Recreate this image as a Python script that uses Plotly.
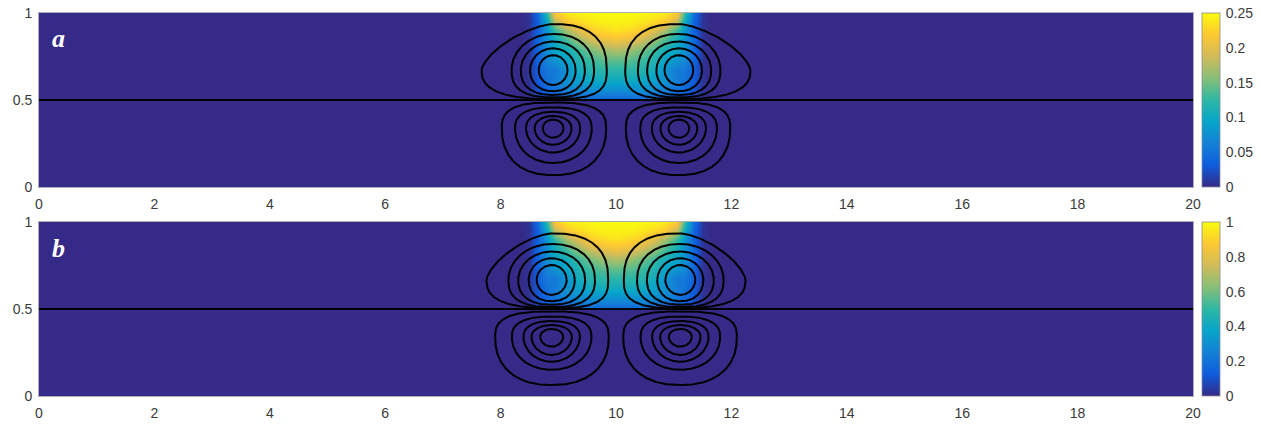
import numpy as np
import plotly.graph_objects as go

# ------------------------------------------------------------------
# Values
# ------------------------------------------------------------------
x_ticks = [0, 2, 4, 6, 8, 10, 12, 14, 16, 18, 20]
y_ticks = [0, 0.5, 1]
y_tick_text = ["0", "0.5", "1"]
cbar_ticks_a = [0, 0.05, 0.1, 0.15, 0.2, 0.25]
cbar_text_a = ["0", "0.05", "0.1", "0.15", "0.2", "0.25"]
cbar_ticks_b = [0, 0.2, 0.4, 0.6, 0.8, 1]
cbar_text_b = ["0", "0.2", "0.4", "0.6", "0.8", "1"]
cmax_a = 0.25
cmax_b = 1.0
x_range = [0, 20]
y_range = [0, 1]
mirror_x = 10.0          # the pattern is mirror-symmetric about x = 10
interface_y = 0.5
panel_labels = ["a", "b"]

# concentration (fraction of colour-bar maximum), left half of the plume
conc_x_left = [0, 8.35, 8.5, 8.65, 8.8, 8.95, 9.15, 9.35, 9.55, 9.75, 10.0]
conc_y = [0, 0.495, 0.505, 0.52, 0.56, 0.61, 0.67, 0.73, 0.79, 0.85, 0.90, 0.95, 1.0]
conc_rows = [
    [0, 0, 0.00, 0.00, 0.00, 0.00, 0.00, 0.00, 0.00, 0.00, 0.00],   # y = 0
    [0, 0, 0.00, 0.00, 0.00, 0.00, 0.00, 0.00, 0.00, 0.00, 0.00],   # y = 0.495
    [0, 0, 0.01, 0.05, 0.08, 0.10, 0.12, 0.14, 0.15, 0.15, 0.14],   # y = 0.505
    [0, 0, 0.01, 0.07, 0.11, 0.13, 0.16, 0.19, 0.20, 0.20, 0.19],   # y = 0.52
    [0, 0, 0.02, 0.10, 0.16, 0.20, 0.25, 0.28, 0.30, 0.30, 0.29],   # y = 0.56
    [0, 0, 0.02, 0.12, 0.20, 0.24, 0.31, 0.36, 0.39, 0.40, 0.39],   # y = 0.61
    [0, 0, 0.02, 0.14, 0.22, 0.22, 0.32, 0.42, 0.47, 0.49, 0.48],   # y = 0.67
    [0, 0, 0.02, 0.15, 0.27, 0.32, 0.38, 0.46, 0.52, 0.56, 0.57],   # y = 0.73
    [0, 0, 0.02, 0.16, 0.30, 0.38, 0.43, 0.52, 0.60, 0.66, 0.69],   # y = 0.79
    [0, 0, 0.02, 0.16, 0.31, 0.43, 0.55, 0.67, 0.76, 0.82, 0.85],   # y = 0.85
    [0, 0, 0.02, 0.15, 0.33, 0.52, 0.69, 0.80, 0.88, 0.92, 0.94],   # y = 0.90
    [0, 0, 0.02, 0.15, 0.40, 0.72, 0.87, 0.92, 0.95, 0.97, 0.98],   # y = 0.95
    [0, 0, 0.02, 0.18, 0.50, 0.88, 0.96, 0.98, 0.99, 1.00, 1.00],   # y = 1.0
]

# streamline loops of the left vortices (right ones are mirror images)
# extents measured from the vortex centre, outermost loop first
top_center_a = (8.91, 0.672)
top_left_a = [1.24, 0.72, 0.56, 0.40, 0.25]
top_right_a = [0.93, 0.71, 0.55, 0.39, 0.25]
top_up_a = [0.265, 0.208, 0.164, 0.125, 0.086]
top_down_a = [0.166, 0.157, 0.143, 0.122, 0.086]

bot_center_a = (8.91, 0.338)
bot_left_a = [0.89, 0.66, 0.47, 0.32, 0.18]
bot_right_a = [0.92, 0.67, 0.47, 0.32, 0.18]
bot_up_a = [0.148, 0.120, 0.094, 0.070, 0.050]
bot_down_a = [0.270, 0.200, 0.140, 0.095, 0.055]

top_center_b = (8.885, 0.667)
top_left_b = [1.13, 0.75, 0.58, 0.40, 0.26]
top_right_b = [0.98, 0.75, 0.58, 0.40, 0.26]
top_up_b = [0.268, 0.207, 0.163, 0.125, 0.086]
top_down_b = [0.162, 0.155, 0.142, 0.123, 0.086]

bot_center_b = (8.885, 0.341)
bot_left_b = [0.98, 0.69, 0.49, 0.35, 0.20]
bot_right_b = [0.99, 0.69, 0.49, 0.35, 0.20]
bot_up_b = [0.145, 0.116, 0.090, 0.067, 0.045]
bot_down_b = [0.278, 0.190, 0.144, 0.105, 0.057]

# ------------------------------------------------------------------
# Styles (loop shape exponents per quadrant, colours, geometry)
# ------------------------------------------------------------------
top_p_uo = [1.5, 2.0, 2.0, 2.0, 2.0]
top_p_ui = [2.5, 2.2, 2.1, 2.0, 2.0]
top_p_lo = [2.6, 2.6, 2.4, 2.2, 2.0]
top_p_li = [3.0, 2.6, 2.4, 2.2, 2.0]
bot_p_u = [2.8, 2.5, 2.3, 2.1, 2.0]
bot_p_l = [2.3, 2.1, 2.0, 2.0, 2.0]

parula = [
    [0.0, "#352a87"], [0.125, "#0f5cdd"], [0.25, "#1481d6"],
    [0.375, "#06a4ca"], [0.5, "#2eb7a4"], [0.625, "#87bf77"],
    [0.75, "#d1bb59"], [0.875, "#fec832"], [1.0, "#f9fb0e"],
]
W, H = 1261, 425
plot_left, plot_right = 39, 1193
panel_px = [(13, 187), (222, 396)]
cbar_left, cbar_w = 1202, 18
font_color = "#3a3a3a"
font_family = "Liberation Sans, Arial, sans-serif"


def loop(cx, cy, al, ar, bu, bd, p_ul, p_ur, p_ll, p_lr, n=160):
    t = np.linspace(0, 2 * np.pi, 4 * n + 1)
    c, s = np.cos(t), np.sin(t)
    right = c >= 0
    up = s >= 0
    a = np.where(right, ar, al)
    b = np.where(up, bu, bd)
    p = np.where(up, np.where(right, p_ur, p_ul), np.where(right, p_lr, p_ll))
    x = cx + a * np.sign(c) * np.abs(c) ** (2.0 / p)
    y = cy + b * np.sign(s) * np.abs(s) ** (2.0 / p)
    return x, y


def panel_loops(tc, tl, tr, tu, td, bc, bl, br, bu, bd):
    xs, ys = [], []
    for k in range(len(tl)):
        x, y = loop(tc[0], tc[1], tl[k], tr[k], tu[k], td[k],
                    top_p_uo[k], top_p_ui[k], top_p_lo[k], top_p_li[k])
        for xx in (x, 2 * mirror_x - x):
            xs += list(xx) + [None]
            ys += list(y) + [None]
    for k in range(len(bl)):
        x, y = loop(bc[0], bc[1], bl[k], br[k], bu[k], bd[k],
                    bot_p_u[k], bot_p_u[k], bot_p_l[k], bot_p_l[k])
        for xx in (x, 2 * mirror_x - x):
            xs += list(xx) + [None]
            ys += list(y) + [None]
    return xs, ys


# full concentration grid (mirror about x = 10)
conc_x = conc_x_left + [2 * mirror_x - v for v in reversed(conc_x_left[:-1])]
conc_full = np.array([row + row[-2::-1] for row in conc_rows], dtype=float)

fig = go.Figure()

panels = [
    dict(xa="x", ya="y", cax="coloraxis", cmax=cmax_a,
         loops=panel_loops(top_center_a, top_left_a, top_right_a, top_up_a, top_down_a,
                           bot_center_a, bot_left_a, bot_right_a, bot_up_a, bot_down_a)),
    dict(xa="x2", ya="y2", cax="coloraxis2", cmax=cmax_b,
         loops=panel_loops(top_center_b, top_left_b, top_right_b, top_up_b, top_down_b,
                           bot_center_b, bot_left_b, bot_right_b, bot_up_b, bot_down_b)),
]

for pnl in panels:
    fig.add_trace(go.Heatmap(
        x=conc_x, y=conc_y, z=conc_full * pnl["cmax"],
        zsmooth="best", coloraxis=pnl["cax"],
        xaxis=pnl["xa"], yaxis=pnl["ya"], hoverinfo="skip",
    ))
    lx, ly = pnl["loops"]
    fig.add_trace(go.Scatter(
        x=lx, y=ly, mode="lines", line=dict(color="black", width=2),
        xaxis=pnl["xa"], yaxis=pnl["ya"], hoverinfo="skip", showlegend=False,
    ))

xdom = [plot_left / W, plot_right / W]


def ydom(top, bottom):
    return [1 - bottom / H, 1 - top / H]


axis_common = dict(showgrid=False, zeroline=False, showline=True, mirror=True,
                   automargin=False,
                   linecolor="rgba(140,140,150,0.7)", linewidth=1,
                   tickfont=dict(family=font_family, size=14, color=font_color))

xa_common = dict(axis_common, range=x_range, tickvals=x_ticks,
                 ticktext=[str(v) for v in x_ticks],
                 ticks="outside", ticklen=4, tickcolor="rgba(0,0,0,0)", domain=xdom)
ya_common = dict(axis_common, range=y_range, tickvals=y_ticks, ticktext=y_tick_text,
                 ticks="outside", ticklen=3, tickcolor="rgba(0,0,0,0)")


def cbar(top, bottom, vals, text):
    return dict(
        x=cbar_left / W, xanchor="left", xpad=0, ypad=0,
        y=1 - (top + bottom) / 2 / H, yanchor="middle",
        lenmode="fraction", len=(bottom - top) / H,
        thickness=cbar_w, thicknessmode="pixels",
        outlinecolor="rgba(140,140,150,0.8)", outlinewidth=1,
        tickvals=vals, ticktext=text, ticks="outside", ticklen=3,
        tickcolor="rgba(0,0,0,0)",
        tickfont=dict(family=font_family, size=14, color=font_color),
    )


fig.update_layout(
    template="none",
    width=W, height=H,
    margin=dict(l=0, r=0, t=0, b=0, autoexpand=False),
    paper_bgcolor="white", plot_bgcolor="#352a87",
    showlegend=False,
    xaxis=dict(xa_common, anchor="y"),
    yaxis=dict(ya_common, anchor="x", domain=ydom(*panel_px[0])),
    xaxis2=dict(xa_common, anchor="y2"),
    yaxis2=dict(ya_common, anchor="x2", domain=ydom(*panel_px[1])),
    coloraxis=dict(cmin=0, cmax=cmax_a, colorscale=parula,
                   colorbar=cbar(panel_px[0][0], panel_px[0][1], cbar_ticks_a, cbar_text_a)),
    coloraxis2=dict(cmin=0, cmax=cmax_b, colorscale=parula,
                    colorbar=cbar(panel_px[1][0], panel_px[1][1], cbar_ticks_b, cbar_text_b)),
)

# interface line and panel letters
for (xa, ya), lab, ly in zip([("x", "y"), ("x2", "y2")], panel_labels, [0.856, 0.845]):
    fig.add_shape(type="line", xref=xa + " domain", yref=ya, x0=0, x1=1,
                  y0=interface_y, y1=interface_y, line=dict(color="black", width=2))
    fig.add_annotation(x=0.33, y=ly, xref=xa, yref=ya, text="<b><i>%s</i></b>" % lab,
                       showarrow=False, xanchor="center", yanchor="middle",
                       font=dict(family="Liberation Serif, Times New Roman, serif",
                                 size=26, color="white"))

fig.write_html(
    "out.html",
    config={"displayModeBar": False, "staticPlot": True},
    post_script="document.body.style.margin='0px';document.body.style.overflow='hidden';",
)
